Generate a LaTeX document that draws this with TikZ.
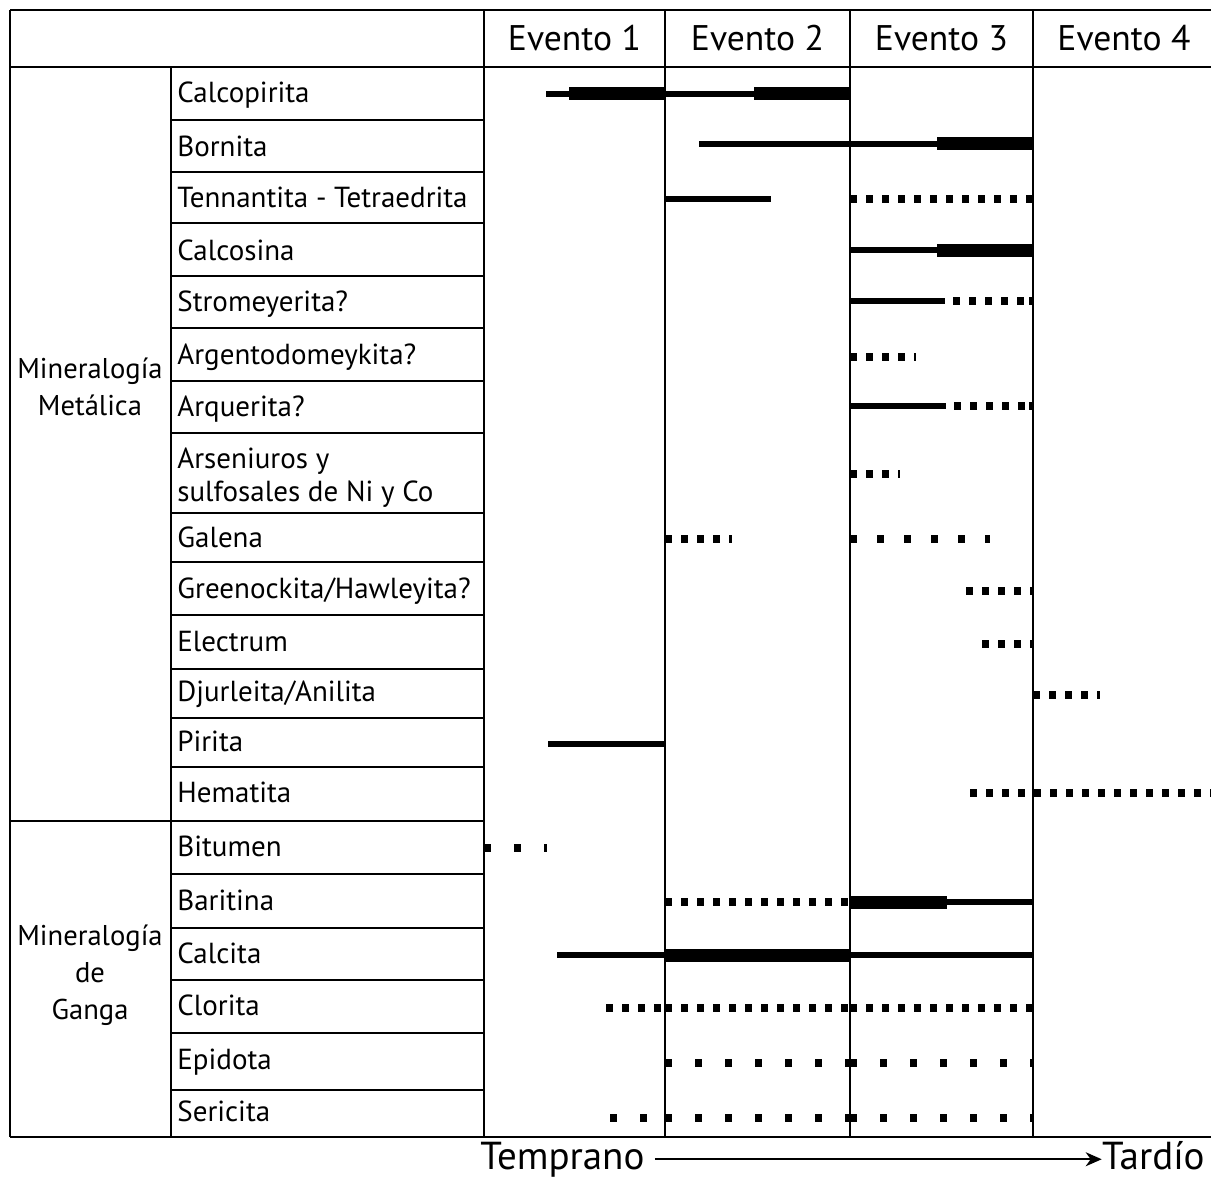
\documentclass[tikz,border=0pt]{standalone}
\usepackage{fontspec}
\setmainfont{PT Sans}
\usetikzlibrary{arrows.meta}
\begin{document}
\begin{tikzpicture}[x=0.5pt,y=-0.5pt,
  frame/.style={line width=1.3pt,black},
  grid/.style={line width=1.1pt,black},
  lbl/.style={anchor=base west,inner sep=0pt,font=\fontsize{14.5pt}{16.5pt}\selectfont},
  grp/.style={anchor=center,align=center,inner sep=0pt,font=\fontsize{14.3pt}{18.5pt}\selectfont},
  hdr/.style={anchor=base,inner sep=0pt,font=\fontsize{17.8pt}{20pt}\selectfont},
  axl/.style={inner sep=0pt,font=\fontsize{19.5pt}{22pt}\selectfont},
  thinbar/.style={line width=3pt,line cap=butt},
  thickbar/.style={line width=6.5pt,line cap=butt},
  dotbar/.style={line width=3.6pt,line cap=butt,dash pattern=on 3.5pt off 4.5pt},
  endtick/.style={line width=3.6pt,line cap=butt},
  sparsebar/.style={line width=3.6pt,line cap=butt,dash pattern=on 3.5pt off 11.5pt},
  midbar/.style={line width=3.6pt,line cap=butt,dash pattern=on 3.5pt off 10pt}
]
\useasboundingbox (0,0) rectangle (1211,1177);
\fill[white] (0,0) rectangle (1211,1177);

% ---- frame ----
\draw[frame] (10,10) -- (1211,10);
\draw[frame] (10,67) -- (1211,67);
\draw[frame] (10,1137) -- (1211,1137);
\draw[frame] (10,10) -- (10,1137);
\draw[frame] (171,67) -- (171,1137);
\draw[frame] (484,10) -- (484,1137);
\draw[grid] (665,10) -- (665,1137);
\draw[grid] (850,10) -- (850,1137);
\draw[grid] (1033,10) -- (1033,1137);
\draw[frame] (10,821) -- (171,821);
\foreach \yy in {120,172,223,276,328,381,433,513,562,615,669,718,767,821,874,928,980,1033,1090}
  \draw[grid] (171,\yy) -- (484,\yy);

% ---- headers ----
\node[hdr] (e1) at (574.5,51) {Evento 1};
\node[hdr] (e2) at (757.5,51) {Evento 2};
\node[hdr] (e3) at (941.5,51) {Evento 3};
\node[hdr] (e4) at (1124,51) {Evento 4};

% ---- group labels ----
\node[grp] (gmet) at (90,387) {Mineralogía\\Metálica};
\node[grp] (ggan) at (90,975) {Mineralogía\\de\\Ganga};

% ---- row labels ----
\node[lbl] (r1) at (177,103) {Calcopirita};
\node[lbl] (r2) at (177,156) {Bornita};
\node[lbl] (r3) at (177,207) {Tennantita - Tetraedrita};
\node[lbl] (r4) at (177,260) {Calcosina};
\node[lbl] (r5) at (177,311) {Stromeyerita?};
\node[lbl] (r6) at (177,364) {Argentodomeykita?};
\node[lbl] (r7) at (177,416) {Arquerita?};
\node[lbl,align=left,anchor=north west] (r8) at (177,447) {Arseniuros y\\sulfosales de Ni y Co};
\node[lbl] (r9) at (177,547) {Galena};
\node[lbl] (r10) at (177,598) {Greenockita/Hawleyita?};
\node[lbl] (r11) at (177,651) {Electrum};
\node[lbl] (r12) at (177,701) {Djurleita/Anilita};
\node[lbl] (r13) at (177,751) {Pirita};
\node[lbl] (r14) at (177,802) {Hematita};
\node[lbl] (r15) at (177,856) {Bitumen};
\node[lbl] (r16) at (177,910) {Baritina};
\node[lbl] (r17) at (177,963) {Calcita};
\node[lbl] (r18) at (177,1015) {Clorita};
\node[lbl] (r19) at (177,1069) {Epidota};
\node[lbl] (r20) at (177,1121) {Sericita};

% ---- bars ----
% Calcopirita
\draw[thinbar] (546,94) -- (570,94);
\draw[thickbar] (569,94) -- (665,94);
\draw[thinbar] (665,94) -- (755,94);
\draw[thickbar] (754,94) -- (850,94);
% Bornita
\draw[thinbar] (699,144) -- (938,144);
\draw[thickbar] (937,144) -- (1033,144);
% Tennantita
\draw[thinbar] (665,199) -- (771,199);
\draw[dotbar] (850,199) -- (1033,199);
% Calcosina
\draw[thinbar] (850,250) -- (938,250);
\draw[thickbar] (937,250) -- (1033,250);
% Stromeyerita
\draw[thinbar] (850,301) -- (945,301);
\draw[dotbar] (953,301) -- (1033,301);
\draw[endtick] (1029,301) -- (1033,301);
% Argentodomeykita
\draw[dotbar] (850,357) -- (916,357);
% Arquerita
\draw[thinbar] (850,406) -- (946,406);
\draw[dotbar] (954,406) -- (1033,406);
\draw[endtick] (1029,406) -- (1033,406);
% Arseniuros
\draw[dotbar] (850,474) -- (900,474);
% Galena
\draw[dotbar] (665,539) -- (732,539);
\draw[midbar] (850,539) -- (990,539);
% Greenockita
\draw[dotbar] (966,591) -- (1033,591);
\draw[endtick] (1030,591) -- (1033,591);
% Electrum
\draw[dotbar] (982,644) -- (1033,644);
% Djurleita
\draw[dotbar] (1033,695) -- (1100,695);
% Pirita
\draw[thinbar] (548,744) -- (665,744);
% Hematita
\draw[dotbar] (970,793) -- (1211,793);
% Bitumen
\draw[sparsebar] (484,848) -- (547,848);
% Baritina
\draw[dotbar] (665,902) -- (850,902);
\draw[thickbar] (850,902) -- (947,902);
\draw[thinbar] (946,902) -- (1033,902);
% Calcita
\draw[thinbar] (557,955) -- (665,955);
\draw[thickbar] (665,955) -- (850,955);
\draw[thinbar] (850,955) -- (1033,955);
% Clorita
\draw[dotbar] (606,1008) -- (665,1008);
\draw[dotbar] (665,1008) -- (850,1008);
\draw[dotbar] (850,1008) -- (1033,1008);
% Epidota
\draw[sparsebar] (665,1063) -- (850,1063);
\draw[sparsebar] (850,1063) -- (1033,1063);
% Sericita
\draw[sparsebar] (610,1118) -- (665,1118);
\draw[sparsebar] (665,1118) -- (850,1118);
\draw[sparsebar] (850,1118) -- (1033,1118);

% ---- time axis ----
\node[axl,anchor=base west] (tem) at (480,1169) {Temprano};
\node[axl,anchor=base east] (tar) at (1205,1169) {Tardío};
\draw[line width=0.9pt,-{Stealth[length=8pt,width=7pt,inset=2.5pt]}] (tem.east) ++(10,0) coordinate (ts) (ts) -- (ts -| tar.west) ;
\end{tikzpicture}
\end{document}
